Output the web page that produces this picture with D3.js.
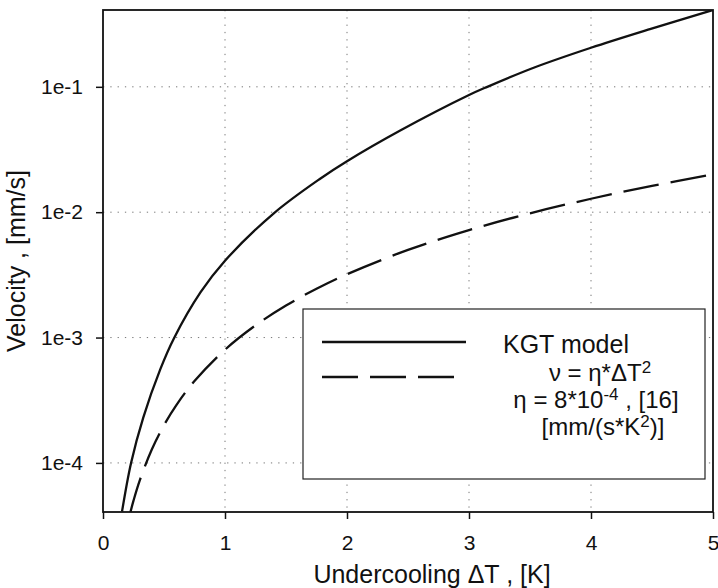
<!DOCTYPE html>
<html>
<head>
<meta charset="utf-8">
<script src="https://cdn.jsdelivr.net/npm/d3@7"></script>
<style>
  body { margin: 0; background: #fff; }
  text { font-family: "Liberation Sans", Arial, sans-serif; fill: #111; }
</style>
</head>
<body>
<div id="graph"></div>
<script>
const width = 718, height = 588;
const margin = {left: 103, right: 5, top: 10, bottom: 76};

// axes
const xDomain = [0, 5];
const yDomain = [4.06e-5, 0.41];
const xTicks = [0, 1, 2, 3, 4, 5];
const yTicks = [1e-4, 1e-3, 1e-2, 1e-1];
const yTickLabels = ['1e-4', '1e-3', '1e-2', '1e-1'];

// KGT model
const kgtDT = [0.156, 0.23, 0.33, 0.47, 0.58, 0.8, 1.0, 1.4, 1.78, 2.0, 2.44, 3.0, 3.15, 3.53, 4.0, 4.49, 5.0];
const kgtV = [4.1e-5, 1.0e-4, 2.3e-4, 5.6e-4, 9.8e-4, 2.3e-3, 4.1e-3, 9.8e-3, 1.85e-2, 2.55e-2, 4.5e-2, 8.6e-2, 1.0e-1, 1.42e-1, 2.05e-1, 2.9e-1, 4.1e-1];

// v = eta*dT^2 fit, eta = 8e-4
const fitDT = [0.225, 0.25, 0.3, 0.4, 0.5, 0.6, 0.75, 1.0, 1.25, 1.5, 1.75, 2.0, 2.5, 3.0, 3.5, 4.0, 4.5, 5.0];
const fitV = [4.05e-5, 5.0e-5, 7.2e-5, 1.28e-4, 2.0e-4, 2.88e-4, 4.5e-4, 8.0e-4, 1.25e-3, 1.8e-3, 2.45e-3, 3.2e-3, 5.0e-3, 7.2e-3, 9.8e-3, 1.28e-2, 1.62e-2, 2.0e-2];

const x0 = margin.left, x1 = width - margin.right;
const y0 = height - margin.bottom, y1 = margin.top;

let svg =
d3.select("#graph").
append("svg").
attr("width", width).
attr("height", height);

const xScale = d3.scaleLinear().domain(xDomain).range([x0, x1]);
const yScale = d3.scaleLog().domain(yDomain).range([y0, y1]);

svg.append("defs").append("clipPath").attr("id", "plot").
append("rect").attr("x", x0).attr("y", y1).attr("width", x1 - x0).attr("height", y0 - y1);

// dotted grid
svg.append("g").selectAll("line").
data(xTicks.slice(1, -1)).
enter().append("line").
attr("x1", d => xScale(d)).attr("x2", d => xScale(d)).
attr("y1", y1).attr("y2", y0).
attr("stroke", "#777").attr("stroke-width", 1).attr("stroke-dasharray", "1.3,6");
svg.append("g").selectAll("line").
data(yTicks).
enter().append("line").
attr("x1", x0).attr("x2", x1).
attr("y1", d => yScale(d)).attr("y2", d => yScale(d)).
attr("stroke", "#777").attr("stroke-width", 1).attr("stroke-dasharray", "1.3,6");

// axes
const xAxis = d3.axisBottom(xScale).tickValues(xTicks).tickSize(7).tickPadding(16).tickFormat(d3.format("d"));
const yAxis = d3.axisLeft(yScale).tickValues(yTicks).tickSize(7).tickPadding(13).tickFormat((d, i) => yTickLabels[i]);

let gx = svg.append("g").attr("transform", "translate(0," + y0 + ")").call(xAxis);
let gy = svg.append("g").attr("transform", "translate(" + x0 + ",0)").call(yAxis);
[gx, gy].forEach(g => {
  g.select(".domain").remove();
  g.selectAll(".tick line").attr("stroke", "#111").attr("stroke-width", 1.5);
  g.selectAll(".tick text").attr("font-size", 21).attr("font-family", "Liberation Sans, Arial, sans-serif").attr("fill", "#111");
});

// frame
svg.append("rect").
attr("x", x0).attr("y", y1).
attr("width", x1 - x0).attr("height", y0 - y1).
attr("fill", "none").attr("stroke", "#111").attr("stroke-width", 1.8);

// curves
const line = d3.line().
x(d => xScale(d[0])).
y(d => yScale(d[1])).
curve(d3.curveCatmullRom.alpha(0.5));

svg.append("path").
datum(kgtDT.map((d, i) => [d, kgtV[i]])).
attr("clip-path", "url(#plot)").
attr("d", line).
attr("fill", "none").attr("stroke", "#111").attr("stroke-width", 2.3);

svg.append("path").
datum(fitDT.map((d, i) => [d, fitV[i]])).
attr("clip-path", "url(#plot)").
attr("d", line).
attr("fill", "none").attr("stroke", "#111").attr("stroke-width", 2.3).
attr("stroke-dasharray", "36,12");

// legend
let legend = svg.append("g");
legend.append("rect").
attr("x", 303).attr("y", 309).attr("width", 402).attr("height", 170).
attr("fill", "#fff").attr("stroke", "#222").attr("stroke-width", 1.2);
legend.append("line").
attr("x1", 322).attr("x2", 466).attr("y1", 342).attr("y2", 342).
attr("stroke", "#111").attr("stroke-width", 2.3);
legend.append("line").
attr("x1", 322).attr("x2", 454).attr("y1", 377).attr("y2", 377).
attr("stroke", "#111").attr("stroke-width", 2.3).attr("stroke-dasharray", "36,12");

legend.append("text").attr("x", 503).attr("y", 353).attr("font-size", 25).text("KGT model");

let l2 = legend.append("text").attr("x", 600).attr("y", 381).attr("font-size", 24).attr("text-anchor", "middle");
l2.append("tspan").text("ν = η*ΔT");
l2.append("tspan").attr("dy", -8).attr("font-size", 17).text("2");

let l3 = legend.append("text").attr("x", 596).attr("y", 408).attr("font-size", 24).attr("text-anchor", "middle");
l3.append("tspan").text("η = 8*10");
l3.append("tspan").attr("dy", -8).attr("font-size", 17).text("-4");
l3.append("tspan").attr("dy", 8).text(" , [16]");

let l4 = legend.append("text").attr("x", 603).attr("y", 435).attr("font-size", 24).attr("text-anchor", "middle");
l4.append("tspan").text("[mm/(s*K");
l4.append("tspan").attr("dy", -8).attr("font-size", 17).text("2");
l4.append("tspan").attr("dy", 8).text(")]");

// axis titles
svg.append("text").
attr("x", 432).attr("y", 583).
attr("text-anchor", "middle").attr("font-size", 25).
text("Undercooling ΔT , [K]");

svg.append("text").
attr("transform", "translate(25," + ((y0 + y1) / 2) + ") rotate(-90)").
attr("text-anchor", "middle").attr("font-size", 25).
text("Velocity , [mm/s]");
</script>
</body>
</html>
